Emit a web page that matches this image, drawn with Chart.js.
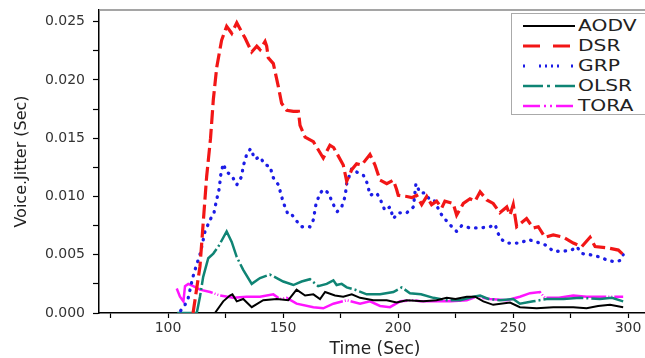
<!DOCTYPE html>
<html>
<head>
<meta charset="utf-8">
<script src="https://cdn.jsdelivr.net/npm/chart.js@4.4.1/dist/chart.umd.min.js"></script>
<style>
  html, body { margin: 0; padding: 0; overflow: hidden; background: #fff; }
  #wrap { position: relative; width: 645px; height: 358px; overflow: hidden; }
  #legend {
    position: absolute; left: 511px; top: 13px; width: 160px; height: 98px;
    padding-top: 2px; border: 1px solid #aaa; background: #fff;
  }
  .row { height: 20px; display: flex; align-items: center; }
  .row svg { margin-left: 11px; flex: none; }
  .row span {
    font: 15px "DejaVu Sans"; color: #222; margin-left: 3px;
    transform: scaleX(1.35); transform-origin: left center;
  }
</style>
</head>
<body>
<div id="wrap">
  <canvas id="chart" width="660" height="358"></canvas>
  <div id="legend"></div>
</div>
<script>
// axis ticks
const xTicks = [75, 100, 125, 150, 175, 200, 225, 250, 275, 300];
const yTicks = [0, 0.0025, 0.005, 0.0075, 0.01, 0.0125, 0.015, 0.0175, 0.02, 0.0225, 0.025];

const seriesNames = ["AODV", "DSR", "GRP", "OLSR", "TORA"];

// values (time in sec, jitter in sec)
const aodvTime = [120.4, 124.0, 126.9, 128.0, 129.9, 132.7, 136.4, 141.4, 147.3, 152.3, 155.9, 159.6, 163.2, 166.1, 168.3, 172.6, 176.2, 179.9, 183.5, 189.3, 195.1, 199.4, 203.8, 211.0, 216.8, 221.2, 225.0, 229.9, 233.5, 237.1, 241.4, 248.7, 253.0, 260.3, 267.5, 276.2, 282.0, 287.0, 292.2, 297.9];
const aodvJitter = [0, 0.0010, 0.0015, 0.0016, 0.0010, 0.0012, 0.0005, 0.0011, 0.0012, 0.0011, 0.0020, 0.0015, 0.0016, 0.0012, 0.0018, 0.0015, 0.0014, 0.0016, 0.0013, 0.0011, 0.0011, 0.0009, 0.0011, 0.0010, 0.0011, 0.0013, 0.0012, 0.0014, 0.0014, 0.0010, 0.0007, 0.0009, 0.0005, 0.0004, 0.0005, 0.0005, 0.0004, 0.0006, 0.0007, 0.0005];

const dsrTime = [110.9, 113.9, 116.8, 118.5, 119.7, 121.2, 123.3, 125.5, 127.7, 129.9, 130.7, 133.5, 136.4, 138.6, 140.0, 142.2, 142.9, 143.6, 145.8, 148.0, 149.4, 151.6, 154.5, 156.7, 157.4, 159.6, 163.2, 167.5, 170.4, 172.0, 176.2, 177.7, 179.9, 182.0, 184.2, 187.8, 190.0, 192.2, 195.1, 198.0, 199.4, 200.1, 203.8, 206.0, 208.1, 210.3, 212.5, 214.6, 216.8, 219.0, 220.4, 224.0, 225.5, 228.4, 231.3, 233.5, 235.7, 238.6, 241.4, 244.3, 247.3, 248.7, 250.1, 251.6, 255.9, 258.8, 261.0, 263.9, 267.5, 271.9, 276.2, 279.9, 283.5, 285.7, 290.7, 295.8, 297.9];
const dsrJitter = [0, 0.0040, 0.0117, 0.0150, 0.0183, 0.0211, 0.0234, 0.0246, 0.0240, 0.0249, 0.0246, 0.0236, 0.0224, 0.0229, 0.0226, 0.0233, 0.0229, 0.0219, 0.0214, 0.0194, 0.0180, 0.0174, 0.0173, 0.0173, 0.0161, 0.0151, 0.0147, 0.0133, 0.0144, 0.0142, 0.0127, 0.0113, 0.0123, 0.0128, 0.0127, 0.0136, 0.0127, 0.0114, 0.0111, 0.0114, 0.0106, 0.0101, 0.0100, 0.0099, 0.0101, 0.0093, 0.0100, 0.0093, 0.0096, 0.0090, 0.0096, 0.0094, 0.0084, 0.0094, 0.0098, 0.0096, 0.0104, 0.0097, 0.0094, 0.0086, 0.0091, 0.0084, 0.0093, 0.0074, 0.0081, 0.0073, 0.0074, 0.0065, 0.0067, 0.0065, 0.0060, 0.0057, 0.0065, 0.0057, 0.0056, 0.0054, 0.0050];

const grpTime = [105.5, 107.4, 108.8, 110.7, 112.2, 113.9, 116.1, 118.3, 120.0, 120.9, 122.3, 122.9, 124.0, 125.5, 127.7, 129.9, 132.0, 132.7, 134.2, 135.9, 137.8, 140.0, 142.2, 144.3, 145.8, 148.0, 148.7, 150.1, 152.3, 154.0, 155.9, 158.1, 161.7, 163.2, 164.3, 166.1, 167.8, 169.7, 171.9, 173.6, 175.5, 177.0, 177.7, 179.9, 183.5, 185.0, 186.7, 187.8, 190.7, 192.2, 194.3, 196.5, 198.0, 200.1, 203.8, 206.7, 207.8, 209.6, 211.7, 213.9, 216.0, 218.3, 221.9, 224.0, 225.5, 227.7, 231.3, 235.7, 240.0, 242.2, 243.6, 245.1, 247.3, 253.0, 256.7, 261.7, 264.6, 267.5, 271.9, 275.5, 277.7, 279.9, 283.5, 287.8, 291.4, 294.3, 296.5, 297.9];
const grpJitter = [0.0002, 0.0007, 0.0013, 0.0030, 0.0040, 0.0050, 0.0070, 0.0080, 0.0086, 0.0095, 0.0107, 0.0118, 0.0128, 0.0121, 0.0118, 0.0110, 0.0117, 0.0126, 0.0136, 0.0141, 0.0132, 0.0134, 0.0127, 0.0126, 0.0116, 0.0110, 0.0105, 0.0095, 0.0084, 0.0084, 0.0079, 0.0074, 0.0074, 0.0080, 0.0093, 0.0103, 0.0106, 0.0103, 0.0093, 0.0087, 0.0091, 0.0100, 0.0111, 0.0124, 0.0119, 0.0118, 0.0111, 0.0101, 0.0103, 0.0098, 0.0088, 0.0091, 0.0081, 0.0086, 0.0086, 0.0091, 0.0111, 0.0103, 0.0103, 0.0097, 0.0096, 0.0086, 0.0077, 0.0073, 0.0070, 0.0075, 0.0073, 0.0073, 0.0074, 0.0076, 0.0068, 0.0063, 0.0060, 0.0060, 0.0063, 0.0060, 0.0058, 0.0053, 0.0053, 0.0054, 0.0057, 0.0051, 0.0050, 0.0048, 0.0045, 0.0044, 0.0045, 0.0050];

const olsrTime = [104.0, 112.5, 113.9, 115.3, 117.5, 119.7, 121.9, 125.5, 127.7, 129.9, 132.7, 136.4, 140.0, 144.3, 147.3, 150.1, 154.5, 158.1, 161.7, 165.3, 169.0, 171.9, 173.3, 175.5, 177.7, 181.3, 186.4, 192.2, 198.0, 201.6, 205.2, 210.0, 215.4, 221.2, 227.0, 232.8, 235.7, 239.3, 244.3, 250.1, 253.0, 258.8, 264.6, 272.0, 279.1, 287.8, 293.0, 297.9];
const olsrJitter = [0, 0, 0.0014, 0.0031, 0.0047, 0.0051, 0.0057, 0.0070, 0.0061, 0.0048, 0.0037, 0.0025, 0.0030, 0.0033, 0.0030, 0.0027, 0.0024, 0.0027, 0.0029, 0.0023, 0.0025, 0.0028, 0.0024, 0.0025, 0.0022, 0.0020, 0.0016, 0.0016, 0.0018, 0.0022, 0.0017, 0.0016, 0.0013, 0.0011, 0.0011, 0.0014, 0.0015, 0.0012, 0.0011, 0.0012, 0.0008, 0.0010, 0.0012, 0.0012, 0.0013, 0.0012, 0.0013, 0.0010];

const toraTime = [103.8, 105.2, 106.7, 107.4, 108.8, 111.0, 113.9, 118.3, 122.6, 128.4, 134.2, 140.0, 145.8, 148.7, 151.6, 155.9, 163.2, 167.5, 171.9, 177.7, 183.5, 187.8, 192.2, 196.5, 200.9, 206.7, 209.6, 216.8, 223.0, 229.9, 234.2, 240.0, 247.3, 253.0, 257.4, 261.7, 263.9, 270.0, 276.2, 282.0, 287.8, 293.0, 297.9];
const toraJitter = [0.0021, 0.0014, 0.0010, 0.0023, 0.0025, 0.0023, 0.0020, 0.0018, 0.0015, 0.0013, 0.0014, 0.0014, 0.0016, 0.0012, 0.0013, 0.0008, 0.0005, 0.0004, 0.0008, 0.0011, 0.0008, 0.0010, 0.0006, 0.0005, 0.0010, 0.0011, 0.0010, 0.0010, 0.0010, 0.0011, 0.0014, 0.0012, 0.0011, 0.0014, 0.0017, 0.0018, 0.0013, 0.0013, 0.0015, 0.0014, 0.0014, 0.0014, 0.0014];

const pts = (xs, ys) => xs.map((x, i) => ({ x: x, y: ys[i] }));

const styles = [
  { color: "#000000", width: 2, dash: [], svgDash: "" },
  { color: "#f21616", width: 3.2, dash: [14, 5], svgDash: "17 13" },
  { color: "#1c1ce6", width: 3.3, dash: [0.5, 7], svgDash: "2 14 2 4 2 4 2 4 2 12 2", cap: "round" },
  { color: "#0f8474", width: 2.5, dash: [40, 3, 2, 3], svgDash: "20 4 3 5 20" },
  { color: "#ff14ff", width: 2.5, dash: [60, 2, 1, 2, 1, 2], svgDash: "17 4 2 4 2 4 17" }
];
const seriesData = [
  pts(aodvTime, aodvJitter),
  pts(dsrTime, dsrJitter),
  pts(grpTime, grpJitter),
  pts(olsrTime, olsrJitter),
  pts(toraTime, toraJitter)
];

// html legend box sitting over the plot, top right
const legendEl = document.getElementById("legend");
seriesNames.forEach((name, i) => {
  const s = styles[i];
  legendEl.insertAdjacentHTML("beforeend",
    '<div class="row"><svg width="52" height="8"><line x1="0" y1="4" x2="52" y2="4" stroke="' + s.color +
    '" stroke-width="' + Math.min(s.width, 3) + '"' + (s.svgDash ? ' stroke-dasharray="' + s.svgDash + '"' : '') +
    '/></svg><span>' + name + '</span></div>');
});

const frame = {
  id: "frame",
  beforeDatasetsDraw(chart) {
    const { ctx, chartArea: a } = chart;
    ctx.save();
    ctx.strokeStyle = "#888";
    ctx.lineWidth = 1.5;
    ctx.beginPath();
    ctx.moveTo(a.left, a.top);
    ctx.lineTo(a.right, a.top);
    ctx.lineTo(a.right, a.bottom);
    ctx.stroke();
    ctx.restore();
  }
};

const font = "DejaVu Sans";

new Chart(document.getElementById("chart"), {
  type: "line",
  data: {
    datasets: seriesNames.map((name, i) => ({
      label: name,
      data: seriesData[i],
      borderColor: styles[i].color,
      borderWidth: styles[i].width,
      borderDash: styles[i].dash,
      borderCapStyle: styles[i].cap || "butt",
      pointRadius: 0,
      fill: false,
      tension: 0
    }))
  },
  options: {
    responsive: false,
    animation: false,
    layout: { padding: { top: 10, right: 9, left: 0, bottom: 0 } },
    plugins: { legend: { display: false }, tooltip: { enabled: false } },
    scales: {
      x: {
        type: "linear",
        min: 70,
        max: 310,
        afterBuildTicks: (scale) => { scale.ticks = xTicks.map(v => ({ value: v })); },
        afterFit: (scale) => {
          scale.height = 45;
          scale.paddingLeft = 0;
          scale.paddingRight = 0;
        },
        ticks: {
          callback: (v) => (v % 50 === 0 ? String(v) : ""),
          font: { family: font, size: 14 },
          color: "#333",
          padding: 2,
          maxRotation: 0,
          autoSkip: false
        },
        grid: { drawOnChartArea: false, tickLength: 5, tickColor: "#000", tickWidth: 1.2 },
        border: { color: "#000", width: 1.5 },
        title: {
          display: true,
          text: "Time (Sec)",
          font: { family: font, size: 17, lineHeight: 1 },
          color: "#222",
          padding: { top: 0, bottom: 0 }
        }
      },
      y: {
        min: 0,
        max: 0.026,
        afterBuildTicks: (scale) => { scale.ticks = yTicks.map(v => ({ value: v })); },
        afterFit: (scale) => {
          scale.width = 99;
          scale.paddingTop = 0;
          scale.paddingBottom = 0;
        },
        ticks: {
          callback: (v) => (Math.round(v * 10000) % 50 === 0 ? v.toFixed(3) : ""),
          font: { family: font, size: 14 },
          color: "#333",
          padding: 8,
          autoSkip: false
        },
        grid: { drawOnChartArea: false, tickLength: 6, tickColor: "#000", tickWidth: 1.2 },
        border: { color: "#000", width: 1.5 },
        title: {
          display: true,
          text: "Voice.Jitter (Sec)",
          font: { family: font, size: 16, lineHeight: 1 },
          color: "#222",
          padding: { top: 14, bottom: 0 }
        }
      }
    }
  },
  plugins: [frame]
});
</script>
</body>
</html>
